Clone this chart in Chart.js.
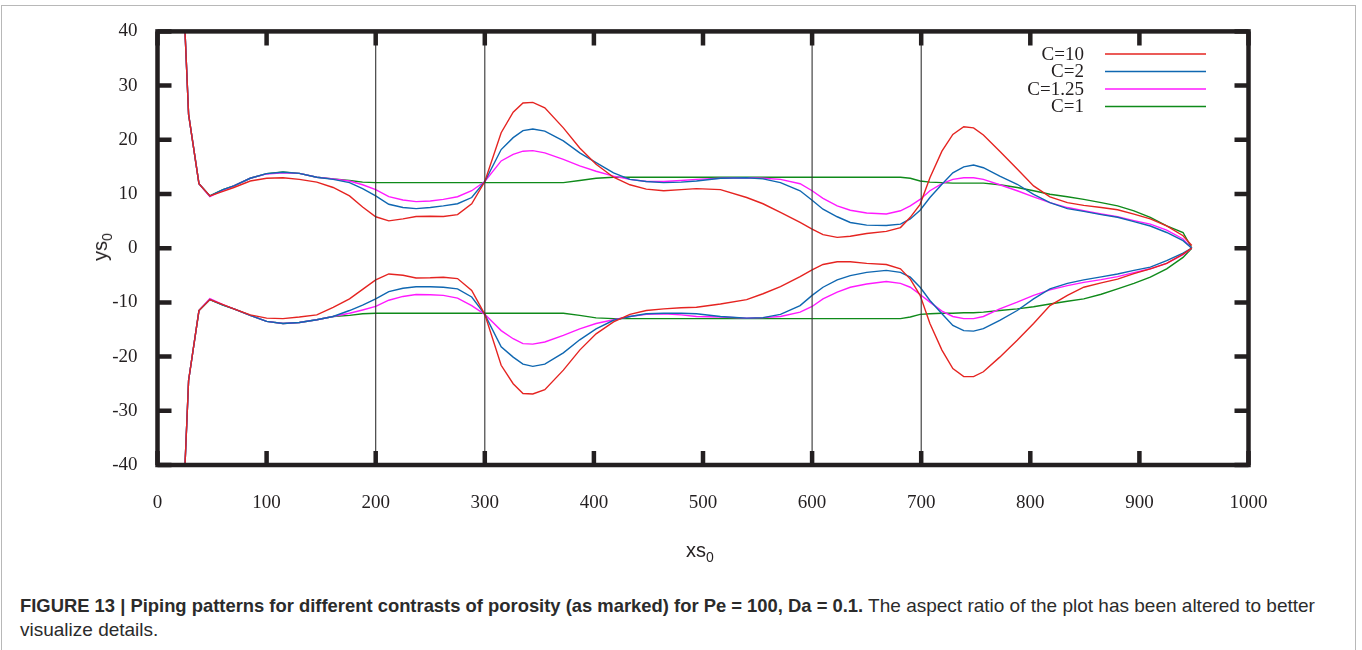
<!DOCTYPE html>
<html><head><meta charset="utf-8">
<script src="https://cdn.jsdelivr.net/npm/chart.js@4.4.0/dist/chart.umd.min.js"></script>
<style>
html,body{margin:0;padding:0;background:#fff;width:1362px;height:650px;overflow:hidden;}
#box{position:absolute;left:1px;top:5px;width:1355px;height:700px;border:1px solid #b8b8b8;box-sizing:border-box;}
#wrap{position:absolute;left:0;top:0;width:1362px;height:560px;}
.axt{position:absolute;font-family:"Liberation Sans",Arial,sans-serif;font-size:20px;color:#231f20;white-space:nowrap;line-height:1;}
.axt sub{font-size:14px;vertical-align:-5px;line-height:0;}
#ylab{left:100px;top:247px;transform:translate(-50%,-50%) rotate(-90deg);}
#xlab{left:700px;top:550px;transform:translate(-50%,-50%);}
#cap{position:absolute;left:20px;top:594px;font-family:"Liberation Sans",Arial,sans-serif;font-size:18.4px;line-height:24px;color:#2b2b2b;white-space:nowrap;}
#cap .n{font-size:19px;}
</style>
</head><body>
<div id="box"></div>
<div id="wrap"><canvas id="c" width="1362" height="560"></canvas></div>
<div class="axt" id="ylab">ys<sub>0</sub></div>
<div class="axt" id="xlab">xs<sub>0</sub></div>
<div id="cap"><b>FIGURE 13 | Piping patterns for different contrasts of porosity (as marked) for Pe = 100, Da = 0.1.</b><span class="n"> The aspect ratio of the plot has been altered to better<br>visualize details.</span></div>
<script>
const xs = [25, 28.5, 38, 48, 60, 70, 85, 100, 115, 130,
146, 161, 176, 188, 200, 212, 225, 237, 250, 262,
275, 288, 300, 315, 326, 335, 344, 355, 372, 387,
402, 418, 433, 448, 464, 480, 494, 516, 540, 555,
571, 589, 600, 610, 623, 635, 650, 668, 681, 690,
699, 708, 719, 729, 739, 748, 757, 772, 788, 803,
818, 834, 849, 865, 880, 895, 910, 925, 940, 948];

const c10Upper = [41, 24.7, 11.9, 9.65, 10.5, 11.2, 12.4, 12.9, 13.0, 12.7,
12.2, 11.2, 9.65, 7.6, 5.8, 5.05, 5.4, 5.85, 5.9, 5.85,
6.2, 8.2, 12.3, 21.3, 25.1, 26.8, 26.9, 25.9, 22.2, 18.5,
15.5, 13.1, 11.7, 10.9, 10.6, 10.8, 11.0, 10.8, 9.35, 8.2,
6.6, 4.75, 3.5, 2.5, 2.0, 2.2, 2.7, 3.1, 3.8, 5.7,
8.1, 13.0, 17.9, 21.0, 22.4, 22.2, 20.9, 17.9, 14.6, 11.5,
9.47, 8.4, 7.9, 7.5, 7.1, 6.3, 5.4, 4.1, 2.3, 0.5];
const c10Lower = [-41, -24.4, -11.5, -9.47, -10.4, -11.2, -12.3, -12.9, -13.0, -12.7,
-12.3, -10.9, -9.35, -7.6, -5.85, -4.75, -5.0, -5.5, -5.45, -5.35,
-5.6, -7.8, -12.2, -21.6, -25.0, -26.8, -26.9, -26.1, -22.5, -18.8,
-15.8, -13.6, -12.2, -11.5, -11.2, -11.0, -10.9, -10.3, -9.5, -8.4,
-7.1, -5.25, -4.0, -3.0, -2.5, -2.5, -2.8, -3.0, -3.8, -5.7,
-8.7, -13.9, -18.8, -22.2, -23.7, -23.7, -22.8, -20.1, -17.0, -13.9,
-10.6, -8.7, -7.2, -6.4, -5.7, -4.7, -3.8, -2.8, -1.1, 0];

const c2Upper = [41, 24.7, 11.9, 9.65, 10.8, 11.5, 12.9, 13.75, 14.0, 13.8,
13.1, 12.7, 12.1, 11.0, 9.65, 8.1, 7.5, 7.3, 7.5, 7.8,
8.2, 9.35, 12.3, 18.2, 20.4, 21.7, 22.0, 21.6, 19.8, 17.6,
15.8, 13.9, 12.7, 12.3, 12.1, 12.2, 12.4, 12.9, 13.0, 12.8,
12.1, 10.6, 8.85, 7.2, 5.8, 4.75, 4.25, 4.2, 4.45, 5.4,
7.0, 9.35, 11.8, 13.9, 15.0, 15.35, 14.85, 13.3, 11.8, 9.95,
8.4, 7.3, 6.8, 6.2, 5.7, 4.9, 4.1, 2.9, 1.4, 0];
const c2Lower = [-41, -24.4, -11.5, -9.47, -10.5, -11.2, -12.4, -13.5, -13.9, -13.7,
-13.2, -12.6, -11.5, -10.5, -9.35, -8.0, -7.4, -7.1, -7.1, -7.2,
-7.5, -9.0, -12.2, -18.2, -20.1, -21.4, -21.8, -21.4, -19.3, -16.9,
-14.9, -13.3, -12.6, -12.1, -12.0, -12.0, -12.1, -12.6, -12.9, -12.8,
-12.2, -10.6, -8.7, -7.2, -5.85, -5.05, -4.45, -4.1, -4.45, -5.35,
-7.2, -9.65, -12.1, -14.25, -15.2, -15.3, -14.85, -13.3, -11.5, -9.35,
-7.5, -6.5, -5.85, -5.3, -4.75, -4.1, -3.5, -2.3, -0.9, 0];

const c125Upper = [41, 24.7, 11.9, 9.5, 10.7, 11.5, 12.9, 13.7, 13.9, 13.8,
13.1, 12.8, 12.4, 11.7, 10.8, 9.5, 8.9, 8.6, 8.7, 9.0,
9.5, 10.6, 12.3, 16.1, 17.3, 17.9, 18.0, 17.6, 16.4, 15.2,
14.2, 13.3, 12.7, 12.3, 12.3, 12.5, 12.7, 12.9, 13.0, 12.9,
12.7, 11.9, 10.6, 9.2, 7.8, 7.0, 6.5, 6.3, 6.9, 7.8,
9.0, 10.6, 11.9, 12.7, 13.0, 13.0, 12.7, 11.7, 10.6, 9.47,
8.4, 7.5, 6.9, 6.3, 5.8, 5.1, 4.45, 3.35, 1.7, 0];
const c125Lower = [-41, -24.4, -11.5, -9.3, -10.4, -11.2, -12.4, -13.5, -13.9, -13.7,
-13.2, -12.6, -12.0, -11.4, -10.75, -9.6, -8.9, -8.55, -8.6, -8.7,
-9.2, -10.6, -12.2, -15.2, -16.7, -17.6, -17.7, -17.3, -16.1, -14.9,
-13.9, -13.2, -12.6, -12.2, -12.1, -12.3, -12.6, -12.7, -12.9, -12.8,
-12.6, -11.8, -10.75, -9.35, -8.1, -7.2, -6.6, -6.15, -6.5, -7.2,
-8.55, -9.95, -11.6, -12.6, -13.0, -13.0, -12.6, -11.2, -9.95, -8.7,
-7.7, -6.9, -6.3, -5.8, -5.25, -4.5, -3.8, -2.8, -1.2, 0];

const c1Upper = [41, 24.7, 11.9, 9.65, 10.8, 11.5, 12.9, 13.75, 14.05, 13.8,
13.1, 12.8, 12.5, 12.2, 12.1, 12.1, 12.1, 12.1, 12.1, 12.1,
12.1, 12.1, 12.1, 12.1, 12.1, 12.1, 12.1, 12.1, 12.1, 12.5,
12.9, 13.1, 13.1, 13.1, 13.1, 13.1, 13.1, 13.1, 13.1, 13.1,
13.1, 13.1, 13.1, 13.1, 13.1, 13.1, 13.1, 13.1, 13.1, 12.9,
12.4, 12.2, 12.1, 12.0, 12.0, 12.0, 12.0, 11.7, 11.2, 10.6,
9.95, 9.5, 9.0, 8.4, 7.8, 6.9, 5.7, 4.1, 2.9, 0];
const c1Lower = [-41, -24.4, -11.5, -9.47, -10.5, -11.2, -12.4, -13.5, -13.9, -13.7,
-13.2, -12.6, -12.4, -12.1, -12.0, -12.0, -12.0, -12.0, -12.0, -12.0,
-12.0, -12.0, -12.0, -12.0, -12.0, -12.0, -12.0, -12.0, -12.0, -12.4,
-12.85, -13.0, -13.0, -13.0, -13.0, -13.0, -13.0, -13.0, -13.0, -13.0,
-13.0, -13.0, -13.0, -13.0, -13.0, -13.0, -13.0, -13.0, -13.0, -12.7,
-12.2, -12.1, -12.0, -12.0, -11.9, -11.9, -11.8, -11.5, -11.2, -10.8,
-10.3, -9.8, -9.35, -8.5, -7.5, -6.5, -5.35, -3.8, -1.7, 0];

const seriesLabels = ['C=10', 'C=2', 'C=1.25', 'C=1'];
const seriesColors = ['#e52421', '#0f67b1', '#ff1aff', '#0f8a1a'];
const vLines = [200, 300, 600, 700];
const xTicks = [0, 100, 200, 300, 400, 500, 600, 700, 800, 900, 1000];
const yTicks = [-40, -30, -20, -10, 0, 10, 20, 30, 40];

const pts = ys => xs.map((x, i) => ({x, y: ys[i]}));
const pairs = [[c10Upper, c10Lower], [c2Upper, c2Lower], [c125Upper, c125Lower], [c1Upper, c1Lower]];
const datasets = [];
vLines.forEach(v => datasets.push({
  label: 'v' + v, data: [{x: v, y: -40}, {x: v, y: 40}],
  borderColor: '#333333', borderWidth: 1.1, pointRadius: 0, isLegend: false
}));
pairs.forEach((p, i) => {
  datasets.push({label: seriesLabels[i], data: pts(p[0]), borderColor: seriesColors[i], borderWidth: 1.4, pointRadius: 0, isLegend: true});
  datasets.push({label: seriesLabels[i] + ' lower', data: pts(p[1]), borderColor: seriesColors[i], borderWidth: 1.4, pointRadius: 0, isLegend: false});
});

const serif = '"Liberation Serif","Times New Roman",serif';
const framePlugin = {
  id: 'gnuframe',
  afterDatasetsDraw(chart) {
    const {ctx, chartArea: a, scales: {x, y}} = chart;
    ctx.save();
    ctx.strokeStyle = '#231f20';
    ctx.lineWidth = 4.5;
    ctx.lineCap = 'butt';
    const T = 14;
    ctx.beginPath();
    xTicks.forEach(v => {
      const px = x.getPixelForValue(v);
      ctx.moveTo(px, a.bottom); ctx.lineTo(px, a.bottom - T);
      ctx.moveTo(px, a.top); ctx.lineTo(px, a.top + T);
    });
    yTicks.forEach(v => {
      const py = y.getPixelForValue(v);
      ctx.moveTo(a.left, py); ctx.lineTo(a.left + T, py);
      ctx.moveTo(a.right, py); ctx.lineTo(a.right - T, py);
    });
    ctx.stroke();
    ctx.lineJoin = 'miter';
    ctx.strokeRect(a.left, a.top, a.right - a.left, a.bottom - a.top);
    // legend
    ctx.font = '19px ' + serif;
    ctx.textAlign = 'right';
    ctx.textBaseline = 'middle';
    ctx.fillStyle = '#231f20';
    let row = 0;
    chart.data.datasets.forEach(ds => {
      if (!ds.isLegend) return;
      const ly = 54 + row * 17.5;
      ctx.fillText(ds.label, 1084, ly + 1);
      ctx.strokeStyle = ds.borderColor;
      ctx.lineWidth = 1.4;
      ctx.beginPath(); ctx.moveTo(1105, ly); ctx.lineTo(1206, ly); ctx.stroke();
      row++;
    });
    ctx.restore();
  }
};

new Chart(document.getElementById('c'), {
  type: 'line',
  data: {datasets},
  options: {
    responsive: false, animation: false, devicePixelRatio: 1,
    layout: {padding: {left: 0, top: 29.5, right: 113.5, bottom: 0}},
    plugins: {legend: {display: false}, tooltip: {enabled: false}},
    elements: {line: {tension: 0}},
    scales: {
      x: {
        type: 'linear', min: 0, max: 1000,
        afterFit: s => { s.height = 95; },
        afterBuildTicks: s => { s.ticks = xTicks.map(v => ({value: v})); },
        grid: {display: false, drawTicks: false}, border: {display: false},
        ticks: {font: {family: serif, size: 19}, color: '#231f20', padding: 27, maxRotation: 0, autoSkip: false,
                callback: v => String(v)}
      },
      y: {
        type: 'linear', min: -40, max: 40,
        afterFit: s => { s.width = 157.5; },
        afterBuildTicks: s => { s.ticks = yTicks.map(v => ({value: v})); },
        grid: {display: false, drawTicks: false}, border: {display: false},
        ticks: {font: {family: serif, size: 19}, color: '#231f20', padding: 20, autoSkip: false,
                callback: v => String(v)}
      }
    }
  },
  plugins: [framePlugin]
});
</script>
</body></html>
